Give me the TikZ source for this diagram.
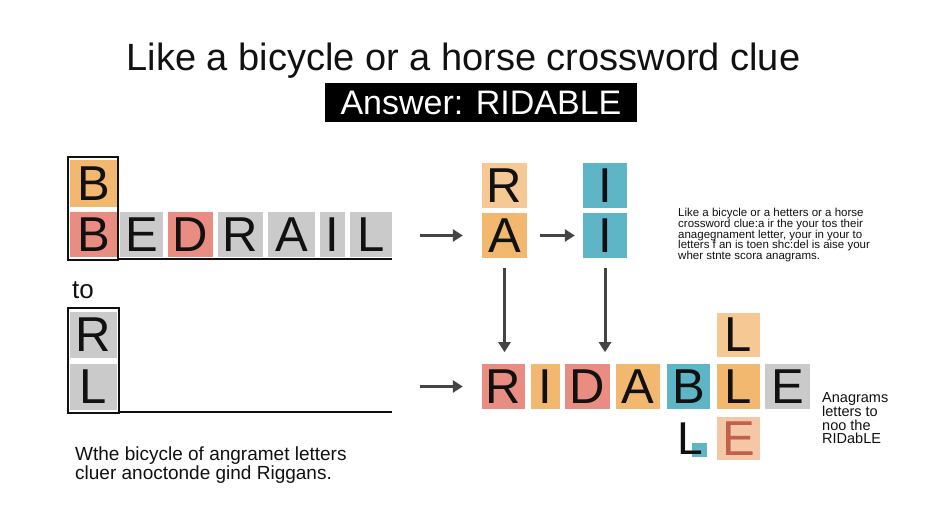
\documentclass[tikz,border=0pt]{standalone}
\usepackage{fontspec}
\setmainfont{Liberation Sans}
\usetikzlibrary{arrows.meta}
\definecolor{tOr}{HTML}{F2B870}
\definecolor{tLor}{HTML}{F6C893}
\definecolor{tRed}{HTML}{E98C82}
\definecolor{tGray}{HTML}{CACACA}
\definecolor{tTeal}{HTML}{5DB5C6}
\definecolor{tPeach}{HTML}{F6C7A6}
\definecolor{eText}{HTML}{C2614B}
\definecolor{txt}{HTML}{111111}
\definecolor{arrcol}{HTML}{444444}
\newcommand{\tilefont}{\fontsize{49}{49}\selectfont}
\tikzset{
  tile/.style={inner sep=0pt, text=txt, font=\tilefont},
  arr/.style={draw=arrcol, line width=3pt, -{Triangle[length=10pt,width=12pt]}},
  frame/.style={draw=txt, line width=1.5pt},
  note/.style={inner sep=0pt, align=left, text=txt, anchor=north west}
}
\begin{document}
\begin{tikzpicture}[x=1pt,y=-1pt]
\useasboundingbox (0,0) rectangle (950,532);
\fill[white] (0,0) rectangle (950,532);

% title
\node[inner sep=0pt, anchor=base, text=txt, font=\fontsize{38}{38}\selectfont] (title) at (463.5,71) {Like a bicycle or a horse crossword clue};
\node[fill=black, text=white, inner sep=0pt, minimum width=312pt, minimum height=39pt, font=\fontsize{34}{34}\selectfont] (answer) at (481,102.5) {Answer: RIDABLE};

% left top group
\node[tile, fill=tOr, minimum width=47pt, minimum height=47pt] (b1) at (93.5,183.5) {B};
\node[tile, fill=tRed, minimum width=47pt, minimum height=45pt] (b2) at (93.5,234.5) {B};
\node[tile, fill=tGray, minimum width=43pt, minimum height=45pt] (e1) at (141.5,234.5) {E};
\node[tile, fill=tRed, minimum width=45pt, minimum height=45pt] (d1) at (190.5,234.5) {D};
\node[tile, fill=tGray, minimum width=45pt, minimum height=45pt] (r1) at (240.5,234.5) {R};
\node[tile, fill=tGray, minimum width=47pt, minimum height=45pt] (a1) at (291.5,234.5) {A};
\node[tile, fill=tGray, minimum width=25pt, minimum height=45pt] (i1) at (332.5,234.5) {I};
\node[tile, fill=tGray, minimum width=42pt, minimum height=45pt] (l1) at (371,234.5) {L};
\draw[frame] (68,157) rectangle (118,260);
\draw[frame] (118,259) -- (392,259);

\node[inner sep=0pt, anchor=north west, text=txt, font=\fontsize{26}{26}\selectfont] (to) at (72,281) {to};

% left bottom group
\node[tile, fill=tGray, minimum width=47pt, minimum height=46pt] (r2) at (93.5,335) {R};
\node[tile, fill=tGray, minimum width=47pt, minimum height=46pt] (l2) at (93.5,387) {L};
\draw[frame] (68,308) rectangle (119,413);
\draw[frame] (119,412) -- (392,412);

\node[note, font=\fontsize{19}{18.5}\selectfont] (lefttext) at (75,447) {Wthe bicycle of angramet letters\\cluer anoctonde gind Riggans.};

% middle tiles
\node[tile, fill=tLor, minimum width=45pt, minimum height=45pt] (ra) at (504.5,185.5) {R};
\node[tile, fill=tOr, minimum width=45pt, minimum height=45pt] (aa) at (504.5,235.5) {A};
\node[tile, fill=tTeal, minimum width=44pt, minimum height=45pt] (it) at (605,185.5) {I};
\node[tile, fill=tTeal, minimum width=44pt, minimum height=45pt] (ib) at (605,235.5) {I};

% bottom row
\node[tile, fill=tRed, minimum width=43pt, minimum height=45pt] (R) at (503.5,386.5) {R};
\node[tile, fill=tOr, minimum width=29pt, minimum height=45pt] (I) at (545.5,386.5) {I};
\node[tile, fill=tRed, minimum width=45pt, minimum height=45pt] (D) at (587.5,386.5) {D};
\node[tile, fill=tOr, minimum width=44pt, minimum height=45pt] (A) at (638,386.5) {A};
\node[tile, fill=tTeal, minimum width=43pt, minimum height=45pt] (B) at (688.5,386.5) {B};
\node[tile, fill=tOr, minimum width=43pt, minimum height=45pt] (L) at (738.5,386.5) {L};
\node[tile, fill=tGray, minimum width=45pt, minimum height=45pt] (E) at (787.5,386.5) {E};
\node[tile, fill=tLor, minimum width=43pt, minimum height=44pt] (Ltop) at (738.5,335) {L};
\node[tile, fill=tPeach, text=eText, minimum width=43pt, minimum height=43pt] (Ebot) at (738.5,438.5) {E};
\fill[tTeal] (692,443) rectangle (707,457);
\node[tile, font=\fontsize{46}{46}\selectfont] (Lfree) at (690,438.5) {L};

% arrows
\coordinate (s1) at (420,235.5);
\coordinate (s3) at (420,386.5);
\draw[arr] (s1) -- ([xshift=-19pt]aa.west);
\draw[arr] ([xshift=13pt]aa.east) -- ([xshift=-8pt]ib.west);
\draw[arr] (s3) -- ([xshift=-19pt]R.west);
\draw[arr] ([yshift=-10pt]aa.south) -- ++(0,84);
\draw[arr] ([yshift=-10pt]ib.south) -- ++(0,84);

% right notes
\node[note, font=\fontsize{11.5}{10.8}\selectfont] (para) at (678,208) {Like a bicycle or a hetters or a horse\\crossword clue:a ir the your tos their\\anagegnament letter, your in your to\\letters f an is toen shc:del is aise your\\wher stnte scora anagrams.};
\node[note, font=\fontsize{14.5}{13.5}\selectfont] (ana) at (822,392) {Anagrams\\letters to\\noo the\\RIDabLE};
\end{tikzpicture}
\end{document}
